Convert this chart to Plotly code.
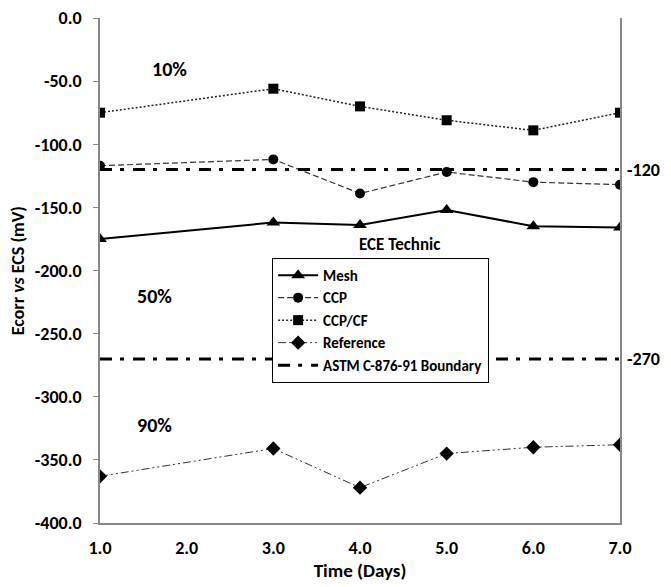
import plotly.graph_objects as go

days = [1, 3, 4, 5, 6, 7]
mesh = [-175, -162, -164, -152, -165, -166]
ccp = [-117, -112, -139, -122, -130, -132]
ccp_cf = [-75, -56, -70, -81, -89, -75]
reference = [-363, -341, -372, -345, -340, -338]
boundary_x = [1, 7, None, 1, 7]
boundary_y = [-120, -120, None, -270, -270]
yticks = [0, -50, -100, -150, -200, -250, -300, -350, -400]
xticks = [1, 2, 3, 4, 5, 6, 7]

FONT = "Carlito, Calibri, Lato, sans-serif"

fig = go.Figure()
fig.add_trace(go.Scatter(x=days, y=mesh, name="<b>Mesh</b>", mode="lines+markers",
                         line=dict(color="black", width=2),
                         marker=dict(symbol="triangle-up", size=12, color="black")))
fig.add_trace(go.Scatter(x=days, y=ccp, name="<b>CCP</b>", mode="lines+markers",
                         line=dict(color="#333333", width=1.2, dash="6px,3px"),
                         marker=dict(symbol="circle", size=10, color="black")))
fig.add_trace(go.Scatter(x=days, y=ccp_cf, name="<b>CCP/CF</b>", mode="lines+markers",
                         line=dict(color="#222222", width=1.5, dash="2px,2px"),
                         marker=dict(symbol="square", size=10, color="black")))
fig.add_trace(go.Scatter(x=days, y=reference, name="<b>Reference</b>", mode="lines+markers",
                         line=dict(color="#333333", width=1, dash="8px,3px,2px,3px,2px,3px"),
                         marker=dict(symbol="diamond", size=11, color="black")))
fig.add_trace(go.Scatter(x=boundary_x, y=boundary_y, name="<b>ASTM C-876-91 Boundary</b>", mode="lines",
                         line=dict(color="black", width=3, dash="12px,8px,4px,9px")))

ann_font = dict(family=FONT, size=20, color="black")
fig.add_annotation(x=1.8, y=-40, text="<b>10%</b>", showarrow=False, font=ann_font)
fig.add_annotation(x=1.63, y=-220, text="<b>50%</b>", showarrow=False, font=ann_font)
fig.add_annotation(x=1.63, y=-322, text="<b>90%</b>", showarrow=False, font=ann_font)
fig.add_annotation(x=1.0, xref="paper", xanchor="left", xshift=5, y=-120, text="<b>-120</b>",
                   showarrow=False, font=dict(family=FONT, size=18, color="black"))
fig.add_annotation(x=1.0, xref="paper", xanchor="left", xshift=5, y=-270, text="<b>-270</b>",
                   showarrow=False, font=dict(family=FONT, size=18, color="black"))
fig.add_annotation(x=0.575, y=0.527, xref="paper", yref="paper", text="<b>ECE Technic</b>",
                   showarrow=False, font=dict(family=FONT, size=17, color="black"),
                   xanchor="center", yanchor="bottom")
fig.add_annotation(x=-0.158, xref="paper", xanchor="center", y=0.5, yref="paper", yanchor="middle",
                   text="<b>Ecorr <i>vs</i> ECS (mV)</b>", textangle=-90, showarrow=False,
                   font=dict(family=FONT, size=18, color="black"))

fig.update_layout(
    width=663, height=579,
    margin=dict(l=92, r=51, t=10, b=64),
    plot_bgcolor="white", paper_bgcolor="white",
    font=dict(family=FONT, size=18, color="black"),
    showlegend=True,
    legend=dict(x=0.331, y=0.525, xanchor="left", yanchor="top",
                bgcolor="white", bordercolor="black", borderwidth=1,
                font=dict(family=FONT, size=15, color="black"),
                tracegroupgap=0, itemwidth=40),
    xaxis=dict(range=[1, 7], tickvals=xticks, ticktext=[f"<b>{v:.1f}</b>" for v in xticks],
               showgrid=False, zeroline=False, showline=True, linecolor="#888888", linewidth=1.5,
               ticks="", ticklabelstandoff=8, automargin=False, ticklabeloverflow="allow",
               title=dict(text="<b>Time (Days)</b>", font=dict(family=FONT, size=19), standoff=2)),
    yaxis=dict(range=[-400, 0], tickvals=yticks, ticktext=[f"<b>{v:.1f}</b>" for v in yticks],
               showgrid=False, zeroline=False, showline=True, linecolor="#888888", linewidth=1.5,
               mirror=True, ticks="outside", ticklen=5, tickcolor="#888888", automargin=False,
               ticklabelstandoff=8, ticklabeloverflow="allow"),
)

fig.write_html("out.html")
